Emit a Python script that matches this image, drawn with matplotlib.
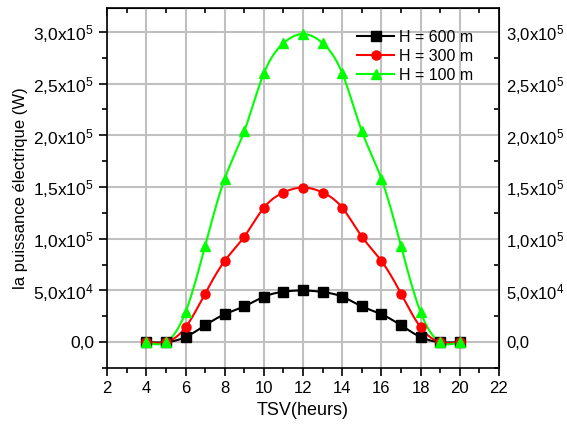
import matplotlib
matplotlib.use("Agg")
import matplotlib.pyplot as plt
from matplotlib.ticker import FuncFormatter, MultipleLocator
import numpy as np

plt.rcParams['font.family'] = ['Liberation Sans', 'DejaVu Sans']
plt.rcParams['mathtext.fontset'] = 'custom'
plt.rcParams['mathtext.rm'] = 'Liberation Sans'
plt.rcParams['mathtext.default'] = 'regular'

heures = [4, 5, 6, 7, 8, 9, 10, 11, 12, 13, 14, 15, 16, 17, 18, 19, 20]
p600 = [0, 0, 5000, 16300, 27000, 34600, 44000, 48800, 50000, 48500, 44000, 34600, 27000, 16300, 5000, 0, 0]
p300 = [0, 0, 14400, 47000, 78600, 102000, 130000, 144700, 149500, 144700, 130000, 102000, 78600, 47000, 14400, 0, 0]
p100 = [0, 0, 29000, 93000, 158000, 204000, 260000, 289000, 298000, 289000, 260000, 204000, 158000, 93000, 29000, 0, 0]


def spline(x, y, n=400):
    # natural cubic spline, only used to draw the smooth line
    x = np.asarray(x, float)
    y = np.asarray(y, float)
    h = np.diff(x)
    N = len(x)
    A = np.zeros((N, N))
    b = np.zeros(N)
    A[0, 0] = A[-1, -1] = 1
    for i in range(1, N - 1):
        A[i, i - 1] = h[i - 1]
        A[i, i] = 2 * (h[i - 1] + h[i])
        A[i, i + 1] = h[i]
        b[i] = 6 * ((y[i + 1] - y[i]) / h[i] - (y[i] - y[i - 1]) / h[i - 1])
    M = np.linalg.solve(A, b)
    xs = np.linspace(x[0], x[-1], n)
    k = np.clip(np.searchsorted(x, xs) - 1, 0, N - 2)
    t1 = x[k + 1] - xs
    t0 = xs - x[k]
    hk = h[k]
    ys = (M[k] * t1**3 + M[k + 1] * t0**3) / (6 * hk) \
        + (y[k] / hk - M[k] * hk / 6) * t1 + (y[k + 1] / hk - M[k + 1] * hk / 6) * t0
    return xs, ys


def fmt(v, pos):
    if abs(v) < 1:
        return '0,0'
    e = int(np.floor(np.log10(abs(v))))
    m = v / 10**e
    return ('%.1f' % m).replace('.', ',') + 'x10$^{%d}$' % e


fig = plt.figure(figsize=(5.67, 4.25), dpi=100)
ax = fig.add_axes([0.189, 0.134, 0.691, 0.847])

series = [(p600, 'k', 's', 'H = 600 m'),
          (p300, '#ff0000', 'o', 'H = 300 m'),
          (p100, '#00ff00', '^', 'H = 100 m')]
for y, c, m, lab in series:
    xs, ys = spline(heures, y)
    ax.plot(xs, ys, color=c, lw=1.5, zorder=3)
    ax.plot(heures, y, color=c, marker=m, ms=6.5, lw=0, zorder=4)
    ax.plot([], [], color=c, marker=m, ms=6.5, lw=1.5, label=lab)

ax.set_xlim(2, 22)
ax.set_ylim(-25000, 323000)
ax.xaxis.set_major_locator(MultipleLocator(2))
ax.xaxis.set_minor_locator(MultipleLocator(1))
ax.yaxis.set_major_locator(MultipleLocator(50000))
ax.yaxis.set_minor_locator(MultipleLocator(25000))
ax.yaxis.set_major_formatter(FuncFormatter(fmt))
ax.grid(True, which='major', color='#c0c0c0', lw=1.5, zorder=0)
ax.tick_params(which='both', direction='out', labelsize=12.5, width=1.2)
ax.tick_params(axis='x', labelsize=12)
ax.tick_params(which='major', length=6)
ax.tick_params(which='minor', length=3.5)

top = ax.secondary_xaxis('top')
top.xaxis.set_major_locator(MultipleLocator(2))
top.xaxis.set_minor_locator(MultipleLocator(1))
top.tick_params(which='both', direction='in', labeltop=False, width=1.2)
top.tick_params(which='major', length=6)
top.tick_params(which='minor', length=3.5)

right = ax.secondary_yaxis('right')
right.yaxis.set_major_locator(MultipleLocator(50000))
right.yaxis.set_minor_locator(MultipleLocator(25000))
right.yaxis.set_major_formatter(FuncFormatter(fmt))
right.tick_params(which='both', direction='in', labelsize=12, width=1.2, pad=5)
right.tick_params(which='major', length=6)
right.tick_params(which='minor', length=3.5)

for s in ax.spines.values():
    s.set_linewidth(1.2)

ax.set_xlabel('TSV(heurs)', fontsize=13)
ax.set_ylabel('la puissance électrique (W)', fontsize=12)

ax.legend(loc='upper right', bbox_to_anchor=(0.97, 0.98), frameon=False,
          fontsize=11.5, handlelength=2.3, handletextpad=0.3, labelspacing=0.25)

fig.savefig('out.png', dpi=100)
